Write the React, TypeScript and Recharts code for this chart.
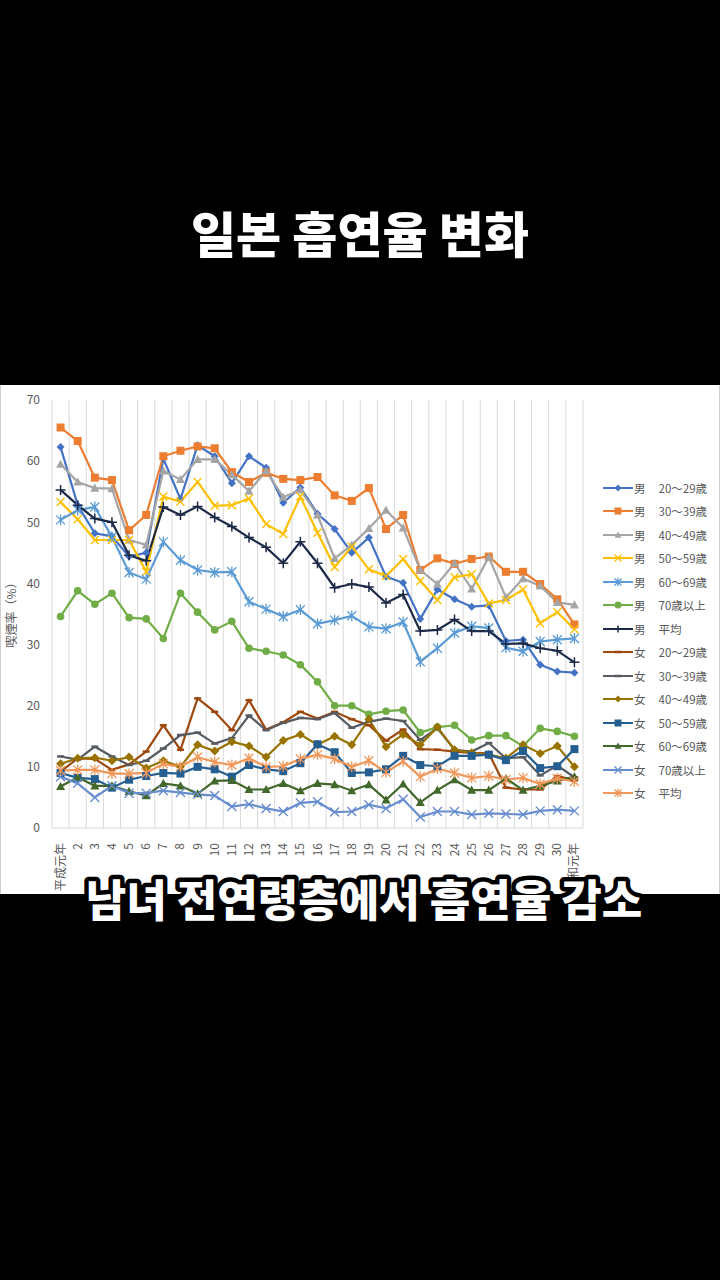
import React from 'react';
import { LineChart, Line, XAxis, YAxis, CartesianGrid, Legend } from 'recharts';

const categories = ['平成元年', '2', '3', '4', '5', '6', '7', '8', '9', '10', '11', '12', '13', '14', '15', '16', '17', '18', '19', '20', '21', '22', '23', '24', '25', '26', '27', '28', '29', '30', '令和元年'];
const yTicks = [0, 10, 20, 30, 40, 50, 60, 70];

const m20 = [62.3, 52.8, 48.2, 47.7, 44.4, 45.0, 60.4, 53.8, 62.6, 60.8, 56.4, 60.8, 58.9, 53.2, 55.7, 51.4, 48.9, 45.0, 47.5, 41.1, 40.1, 34.2, 39.0, 37.4, 36.2, 36.4, 30.6, 30.8, 26.7, 25.6, 25.4];
const m30 = [65.5, 63.3, 57.3, 56.9, 48.7, 51.2, 60.8, 61.7, 62.4, 62.1, 58.2, 56.6, 58.1, 57.1, 56.9, 57.4, 54.4, 53.5, 55.6, 48.9, 51.2, 42.2, 44.1, 43.2, 44.0, 44.4, 41.9, 41.9, 39.9, 37.4, 33.3];
const m40 = [59.5, 56.6, 55.6, 55.5, 47.1, 46.3, 58.4, 57.0, 60.3, 60.3, 57.8, 55.1, 58.4, 54.1, 55.3, 51.2, 44.1, 46.3, 49.0, 52.0, 49.1, 42.2, 39.9, 43.3, 39.1, 44.3, 37.7, 40.8, 39.6, 36.9, 36.5];
const m50 = [53.3, 50.5, 47.1, 47.1, 47.1, 41.9, 54.2, 53.4, 56.6, 52.7, 52.8, 53.9, 49.7, 48.1, 54.2, 48.3, 42.7, 46.0, 42.3, 41.2, 44.0, 40.4, 37.3, 41.0, 41.5, 36.7, 37.3, 39.0, 33.5, 35.3, 32.5];
const m60 = [50.4, 52.0, 52.5, 47.6, 41.8, 40.7, 46.8, 43.8, 42.2, 41.8, 41.9, 37.0, 35.8, 34.6, 35.7, 33.4, 34.0, 34.7, 32.9, 32.6, 33.7, 27.2, 29.4, 31.9, 33.0, 32.7, 29.5, 28.9, 30.5, 30.8, 31.0];
const m70 = [34.6, 38.8, 36.6, 38.4, 34.4, 34.2, 31.0, 38.4, 35.3, 32.4, 33.8, 29.4, 28.9, 28.3, 26.7, 23.9, 20.0, 20.0, 18.6, 19.1, 19.3, 15.6, 16.5, 16.8, 14.4, 15.1, 15.1, 13.4, 16.3, 15.8, 15.0];
const mAvg = [55.3, 52.8, 50.6, 50.0, 44.6, 43.7, 52.5, 51.2, 52.6, 50.8, 49.3, 47.5, 45.9, 43.3, 46.8, 43.3, 39.3, 39.9, 39.4, 36.8, 38.2, 32.2, 32.4, 34.1, 32.2, 32.2, 30.1, 30.2, 29.4, 29.0, 27.1];
const f20 = [9.2, 11.4, 11.3, 9.5, 10.4, 12.5, 16.8, 12.8, 21.2, 19.0, 16.0, 20.9, 16.1, 17.3, 19.0, 17.9, 19.0, 17.8, 16.8, 14.3, 16.1, 12.9, 12.8, 12.5, 12.3, 12.2, 6.6, 6.3, 6.3, 8.5, 7.8];
const f30 = [11.7, 11.2, 13.3, 11.7, 10.3, 11.0, 13.0, 15.2, 15.6, 13.8, 14.7, 18.4, 16.0, 17.2, 18.0, 17.8, 18.8, 16.4, 17.4, 17.9, 17.5, 14.4, 16.3, 12.8, 12.5, 13.9, 11.4, 11.6, 8.6, 10.2, 8.3];
const f40 = [10.5, 11.4, 11.5, 11.0, 11.6, 9.8, 11.0, 10.0, 13.6, 12.6, 14.1, 13.4, 11.6, 14.3, 15.3, 13.6, 15.0, 13.6, 17.8, 13.3, 15.3, 13.6, 16.5, 12.8, 12.3, 12.0, 11.4, 13.6, 12.2, 13.4, 10.0];
const f50 = [9.0, 8.2, 8.0, 6.6, 7.9, 8.5, 9.0, 8.9, 10.0, 9.6, 8.4, 10.3, 9.6, 9.3, 10.6, 13.7, 12.4, 9.0, 9.1, 9.6, 11.8, 10.3, 10.1, 11.8, 11.8, 12.0, 11.1, 12.6, 9.8, 10.1, 12.9];
const f60 = [6.8, 8.3, 6.9, 6.9, 6.0, 5.3, 7.3, 6.9, 5.6, 7.7, 7.8, 6.3, 6.3, 7.3, 6.1, 7.3, 7.1, 6.1, 7.1, 4.6, 7.2, 4.2, 6.2, 7.9, 6.2, 6.2, 8.1, 6.2, 6.9, 7.7, 8.4];
const f70 = [8.4, 7.3, 5.0, 6.9, 5.7, 5.7, 6.1, 5.8, 5.5, 5.3, 3.5, 3.9, 3.2, 2.7, 4.1, 4.3, 2.6, 2.7, 3.8, 3.2, 4.7, 1.8, 2.7, 2.7, 2.2, 2.4, 2.3, 2.2, 2.8, 3.0, 2.8];
const fAvg = [9.4, 9.5, 9.5, 8.9, 8.9, 9.0, 10.5, 10.0, 11.6, 10.8, 10.3, 11.4, 10.0, 10.1, 11.3, 12.0, 11.3, 10.0, 11.0, 9.1, 10.9, 8.4, 9.7, 9.0, 8.2, 8.5, 7.9, 8.2, 7.2, 8.1, 7.6];

type MarkerType = 'diamond' | 'square' | 'triangle' | 'x' | 'star' | 'circle' | 'plus' | 'dash';

const series: { sex: string; age: string; color: string; marker: MarkerType; size: number; values: number[] }[] = [
  { sex: '男', age: '20～29歳', color: '#4472C4', marker: 'diamond', size: 4, values: m20 },
  { sex: '男', age: '30～39歳', color: '#ED7D31', marker: 'square', size: 4, values: m30 },
  { sex: '男', age: '40～49歳', color: '#A5A5A5', marker: 'triangle', size: 4.5, values: m40 },
  { sex: '男', age: '50～59歳', color: '#FFC000', marker: 'x', size: 4, values: m50 },
  { sex: '男', age: '60～69歳', color: '#5B9BD5', marker: 'star', size: 4.5, values: m60 },
  { sex: '男', age: '70歳以上', color: '#70AD47', marker: 'circle', size: 3.8, values: m70 },
  { sex: '男', age: '平均', color: '#1C2A48', marker: 'plus', size: 5, values: mAvg },
  { sex: '女', age: '20～29歳', color: '#9E480E', marker: 'dash', size: 3.5, values: f20 },
  { sex: '女', age: '30～39歳', color: '#575C63', marker: 'dash', size: 3.5, values: f30 },
  { sex: '女', age: '40～49歳', color: '#997300', marker: 'diamond', size: 4.5, values: f40 },
  { sex: '女', age: '50～59歳', color: '#255E91', marker: 'square', size: 4, values: f50 },
  { sex: '女', age: '60～69歳', color: '#43682B', marker: 'triangle', size: 4.5, values: f60 },
  { sex: '女', age: '70歳以上', color: '#698ED0', marker: 'x', size: 4.5, values: f70 },
  { sex: '女', age: '平均', color: '#F1975A', marker: 'star', size: 4.5, values: fAvg },
];

const CHART_W = 720;
const CHART_H = 509;
const MARGIN = { top: 15, right: 137, bottom: 6, left: 12 };
const Y_AXIS_W = 40;
const PLOT_W = CHART_W - MARGIN.left - MARGIN.right - Y_AXIS_W;
const HALF_BAND = PLOT_W / categories.length / 2;
const TEXT_GRAY = '#595959';
const FONT = '"Noto Sans CJK JP", "Noto Sans", sans-serif';

function Marker({ type, cx, cy, color, s }: { type: MarkerType; cx: number; cy: number; color: string; s: number }) {
  if (cx == null || cy == null || isNaN(cx) || isNaN(cy)) return null;
  switch (type) {
    case 'diamond':
      return <path d={`M${cx} ${cy - s}L${cx + s} ${cy}L${cx} ${cy + s}L${cx - s} ${cy}Z`} fill={color} />;
    case 'square':
      return <rect x={cx - s} y={cy - s} width={2 * s} height={2 * s} fill={color} />;
    case 'triangle':
      return <path d={`M${cx} ${cy - s}L${cx + s} ${cy + s * 0.8}L${cx - s} ${cy + s * 0.8}Z`} fill={color} />;
    case 'circle':
      return <circle cx={cx} cy={cy} r={s} fill={color} />;
    case 'x':
      return (
        <path d={`M${cx - s} ${cy - s}L${cx + s} ${cy + s}M${cx - s} ${cy + s}L${cx + s} ${cy - s}`} stroke={color} strokeWidth={1.4} fill="none" />
      );
    case 'star':
      return (
        <path
          d={`M${cx - s} ${cy - s}L${cx + s} ${cy + s}M${cx - s} ${cy + s}L${cx + s} ${cy - s}M${cx} ${cy - s * 1.2}L${cx} ${cy + s * 1.2}`}
          stroke={color}
          strokeWidth={1.3}
          fill="none"
        />
      );
    case 'plus':
      return <path d={`M${cx - s} ${cy}L${cx + s} ${cy}M${cx} ${cy - s}L${cx} ${cy + s}`} stroke={color} strokeWidth={1.5} fill="none" />;
    case 'dash':
      return <path d={`M${cx - s} ${cy}L${cx + s} ${cy}`} stroke={color} strokeWidth={2.5} fill="none" />;
    default:
      return null;
  }
}

function XTick(props: any) {
  const { x, y, payload } = props;
  return (
    <text
      transform={`translate(${x + 4},${y + 7}) rotate(-90)`}
      textAnchor="end"
      fontSize={12}
      fill={TEXT_GRAY}
      fontFamily={FONT}
    >
      {payload.value}
    </text>
  );
}

function LegendList() {
  return (
    <div style={{ fontFamily: FONT, fontSize: 11.5, color: TEXT_GRAY }}>
      {series.map((s, k) => (
        <div key={k} style={{ height: 23.5, display: 'flex', alignItems: 'center', whiteSpace: 'nowrap' }}>
          <svg width={30} height={14} style={{ display: 'block' }}>
            <line x1={0} y1={7} x2={30} y2={7} stroke={s.color} strokeWidth={2} />
            <Marker type={s.marker} cx={15} cy={7} color={s.color} s={Math.min(s.size, 3.5)} />
          </svg>
          <span style={{ marginLeft: 1 }}>{s.sex}</span>
          <span style={{ marginLeft: 13 }}>{s.age}</span>
        </div>
      ))}
    </div>
  );
}

function YLabel(props: any) {
  const vb = props.viewBox || { x: 0, y: 0, height: 0 };
  const cx = 10;
  const cy = vb.y + vb.height / 2 - 2;
  return (
    <text transform={`translate(${cx},${cy}) rotate(-90)`} textAnchor="middle" dominantBaseline="central" fontSize={12} fill={TEXT_GRAY} fontFamily={FONT}>
      喫煙率（%）
    </text>
  );
}

export default function App() {
  const data = categories.map((c, i) => {
    const row: Record<string, string | number> = { cat: c };
    series.forEach((s, k) => {
      row['s' + k] = s.values[i];
    });
    return row;
  });

  return (
    <div style={{ position: 'absolute', left: 0, top: 0, width: 720, height: 1280, background: '#000', overflow: 'hidden' }}>
      <svg width={720} height={300} style={{ position: 'absolute', left: 0, top: 0 }}>
        <text x={360} y={253} textAnchor="middle" fontSize={49} fontWeight={900} fill="#fff" fontFamily='"Noto Sans CJK KR", sans-serif'>
          일본 흡연율 변화
        </text>
      </svg>
      <div style={{ position: 'absolute', left: 0, top: 385, width: 720, height: CHART_H, background: '#fff', boxSizing: 'border-box', borderLeft: '1px solid #d0d0d0', borderRight: '1px solid #d0d0d0' }}>
        <LineChart width={CHART_W} height={CHART_H} data={data} margin={MARGIN} style={{ position: 'absolute', left: -1, top: 0 }}>
          <CartesianGrid
            horizontal={false}
            stroke="#d9d9d9"
            strokeWidth={1}
            verticalCoordinatesGenerator={({ offset }: any) =>
              Array.from({ length: categories.length + 1 }, (_, k) => offset.left + (k * offset.width) / categories.length)
            }
          />
          <XAxis
            dataKey="cat"
            interval={0}
            padding={{ left: HALF_BAND, right: HALF_BAND }}
            axisLine={{ stroke: '#d9d9d9' }}
            tickLine={false}
            height={60}
            tick={<XTick />}
          />
          <YAxis
            domain={[0, 70]}
            ticks={yTicks}
            width={Y_AXIS_W}
            axisLine={false}
            tickLine={false}
            tickMargin={6}
            tick={{ fontSize: 12, fill: TEXT_GRAY, fontFamily: FONT }}
            label={<YLabel />}
          />
          <Legend
            layout="vertical"
            align="center"
            verticalAlign="middle"
            wrapperStyle={{ left: 603, top: 91, width: 115, height: 330 }}
            content={() => <LegendList />}
          />
          {series.map((s, k) => (
            <Line
              key={k}
              type="linear"
              dataKey={'s' + k}
              name={s.sex + '　' + s.age}
              stroke={s.color}
              strokeWidth={2.2}
              isAnimationActive={false}
              activeDot={false}
              dot={(p: any) => <Marker key={`d${k}-${p.index}`} type={s.marker} cx={p.cx} cy={p.cy} color={s.color} s={s.size} />}
            />
          ))}
        </LineChart>
      </div>
      <svg width={720} height={120} style={{ position: 'absolute', left: 0, top: 850 }}>
        <text
          x={364}
          y={67}
          textAnchor="middle"
          fontSize={44}
          fontWeight={900}
          fill="#fff"
          stroke="#000"
          strokeWidth={9}
          strokeLinejoin="round"
          paintOrder="stroke"
          fontFamily='"Noto Sans CJK KR", sans-serif'
        >
          남녀 전연령층에서 흡연율 감소
        </text>
      </svg>
    </div>
  );
}
